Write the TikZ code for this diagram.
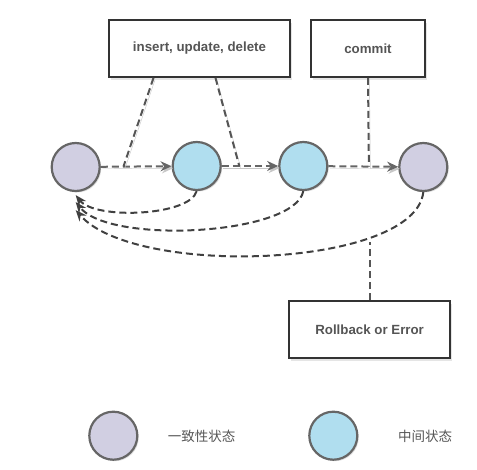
\documentclass[tikz,border=0pt]{standalone}
\usepackage{fontspec}
\setsansfont{Liberation Sans}
\newfontfamily\cjk{Noto Sans CJK SC}
\usetikzlibrary{arrows.meta, shadows}

\definecolor{okstate}{HTML}{D1CFE2}
\definecolor{midstate}{HTML}{B0DEEF}
\definecolor{rim}{HTML}{666666}
\definecolor{ink}{HTML}{555555}

\tikzset{
  state/.style={circle, draw=rim, line width=2.2pt, minimum size=48pt, inner sep=0pt,
    drop shadow={shadow xshift=1.5pt, shadow yshift=-1.5pt, fill=black!25}},
  opbox/.style={draw=black!80, line width=1.8pt, fill=white, text=ink,
    font=\sffamily\bfseries\fontsize{13.3}{15}\selectfont, inner sep=0pt,
    drop shadow={shadow xshift=2pt, shadow yshift=-2.5pt, fill=black!20}},
  ghost/.style={preaction={draw=black!22, transform canvas={shift={(1.5pt,-2pt)}}}},
  flow/.style={draw=rim, line width=2pt, dash pattern=on 7pt off 4pt, ghost,
    -{Stealth[length=11pt, width=10pt]}},
  link/.style={draw=ink, line width=2pt, dash pattern=on 7pt off 4pt},
  back/.style={draw=black!75, line width=2pt, dash pattern=on 7pt off 4pt,
    -{Stealth[length=11pt, width=9pt]}},
  legend/.style={text=ink, font=\cjk\fontsize{13.5}{15}\selectfont}
}

\begin{document}
\begin{tikzpicture}[x=1pt, y=-1pt]
  \useasboundingbox (0,0) rectangle (477,469);

  % states
  \node[state, fill=okstate] (c1) at (75.7,167) {};
  \node[state, fill=midstate] (c2) at (196.7,166) {};
  \node[state, fill=midstate] (c3) at (303.3,166) {};
  \node[state, fill=okstate] (c4) at (423.3,167) {};

  % operations
  \node[opbox, minimum width=181pt, minimum height=57pt] (ops) at (199.5,48.5) {insert, update, delete};
  \node[opbox, minimum width=114pt, minimum height=57pt] (cmt) at (368,48.5) {commit};
  \node[opbox, minimum width=161pt, minimum height=57pt] (rb) at (369.6,329.5) {Rollback or Error};

  % forward flow
  \draw[flow] (c1) -- (c2) coordinate[pos=0.32] (j1);
  \draw[flow] (c2) -- (c3) coordinate[pos=0.31] (j2);
  \draw[flow] (c3) -- (c4) coordinate[pos=0.58] (j3);

  \draw[link, ghost] ([xshift=-46pt]ops.south) -- (j1);
  \draw[link, ghost] ([xshift=16pt]ops.south) -- (j2);
  \draw[link, ghost] (cmt.south) -- (j3);

  % way back
  \draw[back] (c2.south) .. controls (190,216) and (95,220) .. ([yshift=-3pt]c1.south);
  \draw[back] (c3.south) .. controls (295,235) and (110,245) .. ([yshift=-10pt]c1.south);
  \draw[back] (c4.south) .. controls (415,268) and (135,278) .. ([yshift=-18pt]c1.south);
  \coordinate (r) at ([yshift=58pt]rb.north);
  \draw[link] (rb.north) -- (r);

  % legend
  \node[state, fill=okstate] (k1) at (113.3,435.7) {};
  \node[legend] (t1) at (201.7,436.7) {一致性状态};
  \node[state, fill=midstate] (k2) at (333.3,435.7) {};
  \node[legend] (t2) at (425,436.7) {中间状态};
\end{tikzpicture}
\end{document}
